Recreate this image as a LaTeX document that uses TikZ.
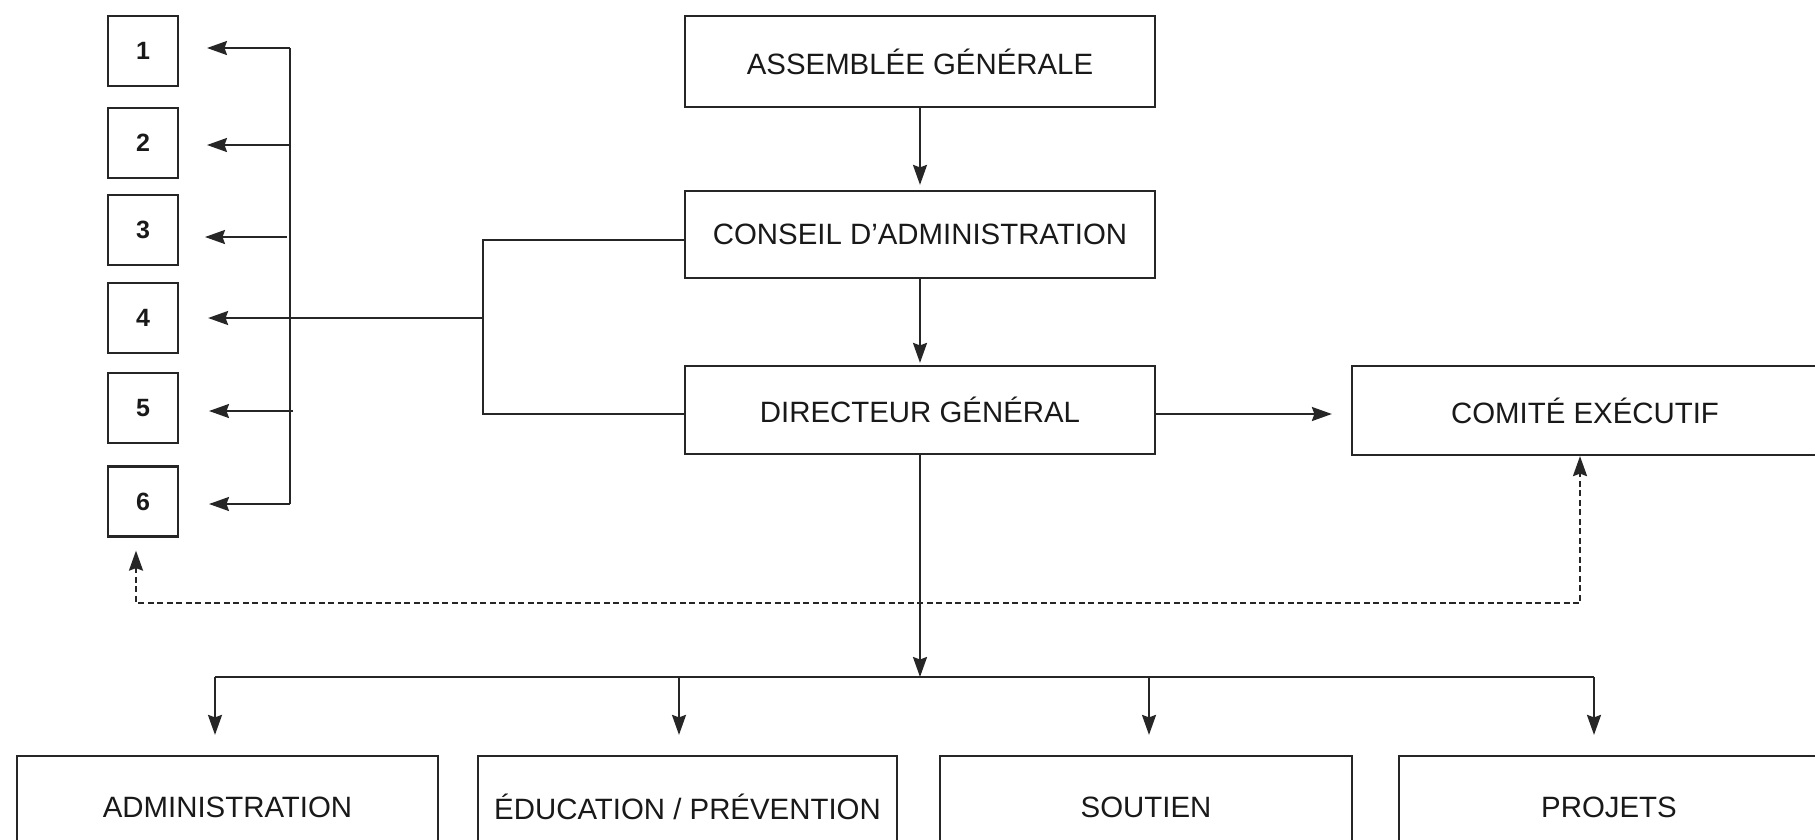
\documentclass[tikz,border=0pt]{standalone}
\usepackage{fontspec}
\setmainfont{Liberation Sans}
\usetikzlibrary{arrows.meta,calc}
\begin{document}
\begin{tikzpicture}[x=1pt,y=-1pt,
  ln/.style={draw=black!85,line width=2.2pt},
  tip/.tip={Stealth[length=20pt,width=14pt,inset=2.5pt]},
  arr/.style={ln,-tip},
  dsh/.style={ln,dash pattern=on 6pt off 3.5pt},
  bigbox/.style={ln,rectangle,inner sep=0pt,minimum width=470pt,minimum height=88pt,
     text=black!90,font=\fontsize{29.4}{35}\selectfont},
  numbox/.style={ln,rectangle,inner sep=0pt,minimum width=70pt,minimum height=70pt,
     text=black!90,font=\fontsize{25}{30}\selectfont\bfseries},
  botbox/.style={ln,rectangle,inner sep=0pt,minimum height=102pt,
     text=black!90,font=\fontsize{29.4}{35}\selectfont}]
\useasboundingbox (0,0) rectangle (1815,839);
% left numbered boxes
\node[numbox] (n1) at (143,51) {1};
\node[numbox] (n2) at (143,143) {2};
\node[numbox] (n3) at (143,230) {3};
\node[numbox] (n4) at (143,318) {4};
\node[numbox] (n5) at (143,408) {5};
\node[numbox] (n6) at (143,501.5) {6};
% main boxes
\node[bigbox,minimum height=91pt] (ag) at (920,61.5) {ASSEMBLÉE GÉNÉRALE};
\node[bigbox,minimum height=87pt] (ca) at (920,234.5) {CONSEIL D'ADMINISTRATION};
\node[bigbox] (dg) at (920,410) {DIRECTEUR GÉNÉRAL};
\node[bigbox,minimum width=466pt,minimum height=89pt] (ce) at (1585,410.5) {COMITÉ EXÉCUTIF};
% bottom boxes
\node[botbox,minimum width=421pt] (adm) at (227.5,807) {ADMINISTRATION};
\node[botbox,minimum width=419pt] (edu) at (687.5,807) {ÉDUCATION / PRÉVENTION};
\node[botbox,minimum width=412pt] (sou) at (1146,807) {SOUTIEN};
\node[botbox,minimum width=420pt] (pro) at (1609,807) {PROJETS};
% coordinates
\coordinate (bt) at (290,48);
\coordinate (bb) at (290,504);
\coordinate (jx) at (483,318);
\coordinate (jt) at (483,240);
\coordinate (jb) at (483,414);
\coordinate (hb) at (920,677);
\coordinate (h1) at (215,677);
\coordinate (h2) at (679,677);
\coordinate (h3) at (1149,677);
\coordinate (h4) at (1594,677);
\coordinate (dA) at (136,603);
\coordinate (dB) at (1580,603);
% vertical chain
\draw[arr,shorten >=5pt] (ag.south) -- (ca.north);
\draw[arr,shorten >=2pt] (ca.south) -- (dg.north);
\draw[arr,shorten >=19pt] (dg.east |- jb) -- (ce.west |- jb);
% left bus
\draw[ln] (bt) -- (bb);
\draw[ln] (ca.west |- jt) -- (jt) -- (jb) -- (dg.west |- jb);
\draw[ln] (jx) -- (bt |- jx);
\draw[arr] (bt) -- (207,48);
\draw[arr] (290,145) -- (207,145);
\draw[arr] (287,237) -- (205,237);
\draw[arr,shorten >=29pt] (bt |- n4) -- (n4.east);
\draw[arr] (293,411) -- (209,411);
\draw[arr] (bb) -- (209,504);
% bottom distribution
\draw[arr] (dg.south) -- (hb);
\draw[ln] (h1) -- (h4);
\draw[arr,shorten >=20pt] (h1) -- (h1 |- adm.north);
\draw[arr,shorten >=20pt] (h2) -- (h2 |- edu.north);
\draw[arr,shorten >=20pt] (h3) -- (h3 |- sou.north);
\draw[arr,shorten >=20pt] (h4) -- (h4 |- pro.north);
% dashed link
\draw[dsh,tip-tip,shorten <=13pt]
  (dA |- n6.south) -- (dA) -- (dB) -- (dB |- ce.south);
\end{tikzpicture}
\end{document}
